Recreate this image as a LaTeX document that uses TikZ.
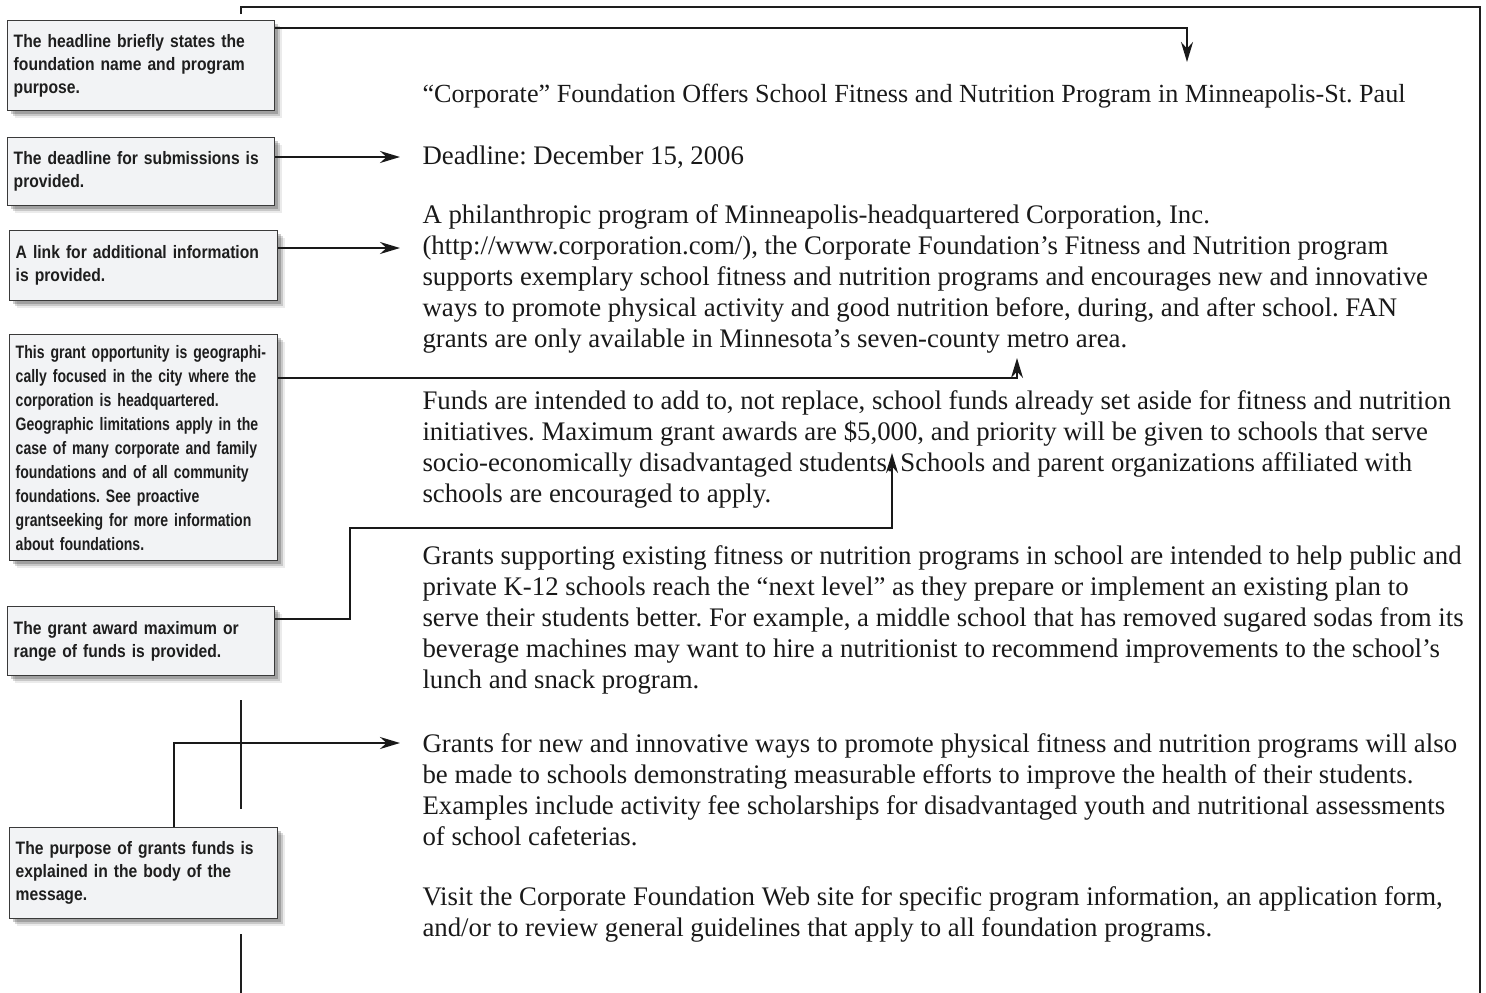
\documentclass[tikz,border=0pt]{standalone}
\usepackage{fontspec}
\setmainfont{Liberation Serif}
\newfontfamily\notefont{Liberation Sans}[FakeStretch=0.87]
\newfontfamily\geofont{Liberation Sans}[FakeStretch=0.78]
\usetikzlibrary{arrows.meta,shadows,calc}
\frenchspacing

\tikzset{every picture/.style={line width=0.75pt}}
\tikzset{
  notebox/.style={draw={rgb, 255:red, 58; green, 58; blue, 58 }, line width=1.1pt,
    fill={rgb, 255:red, 242; green, 243; blue, 245 }, anchor=north west,
    inner xsep=4.5pt, inner ysep=3pt, align=left, text={rgb, 255:red, 30; green, 30; blue, 30 },
    font=\notefont\bfseries\fontsize{13.5}{17.2}\selectfont,
    drop shadow={shadow xshift=5.5pt, shadow yshift=-5.5pt, fill=black, opacity=0.08},
    drop shadow={shadow xshift=4pt, shadow yshift=-4pt, fill=black, opacity=0.15},
    drop shadow={shadow xshift=2.5pt, shadow yshift=-2.5pt, fill=black, opacity=0.2}},
  callout/.style={color={rgb, 255:red, 25; green, 25; blue, 25 }, line width=1.5pt,
    -{Stealth[length=15pt,width=9pt]}},
  frame/.style={color={rgb, 255:red, 30; green, 30; blue, 30 }, line width=1.6pt},
  % anchored at the baseline of the last line
  bodytext/.style={anchor=base west, inner sep=0pt, align=left,
    text={rgb, 255:red, 25; green, 25; blue, 25 }, font=\fontsize{20.1}{23.1}\selectfont}
}

\begin{document}
\begin{tikzpicture}[x=0.75pt,y=0.75pt,yscale=-1,xscale=1]
    \useasboundingbox (0,0) rectangle (1486,993);

    %Shape: Frame of the page
    \draw [frame] (241,14) -- (241,7) -- (1480,7) -- (1480,993) ;
    \draw [frame] (241,700) -- (241,809) ;
    \draw [frame] (241,934) -- (241,993) ;

    %Shape: Rectangle [note boxes]
    \node [notebox, text width=191.25pt, minimum height=67.5pt] (hl) at (7,20)
      {The headline briefly states the\\foundation name and program\\purpose.};
    \node [notebox, text width=191.25pt, minimum height=51pt] (dl) at (7,137)
      {The deadline for submissions is\\provided.};
    \node [notebox, text width=192pt, minimum height=52.5pt] (lk) at (9,230)
      {A link for additional information\\is provided.};
    \node [notebox, text width=192pt, minimum height=169.5pt, font=\geofont\bfseries\fontsize{13.5}{18}\selectfont] (geo) at (9,334)
      {This grant opportunity is geographi-\\cally focused in the city where the\\corporation is headquartered.\\Geographic limitations apply in the\\case of many corporate and family\\foundations and of all community\\foundations. See proactive\\grantseeking for more information\\about foundations.};
    \node [notebox, text width=191.25pt, minimum height=51.75pt] (mx) at (7,606)
      {The grant award maximum or\\range of funds is provided.};
    \node [notebox, text width=192pt, minimum height=68.25pt] (pp) at (9,827)
      {The purpose of grants funds is\\explained in the body of the\\message.};

    % Text Node
    \node [bodytext, font=\fontsize{19.6}{22.9}\selectfont] (headline) at (422,102)
      {“Corporate” Foundation Offers School Fitness and Nutrition Program in Minneapolis-St. Paul};
    % Text Node
    \node [bodytext] (deadline) at (422,164) {Deadline: December 15, 2006};
    % Text Node
    \node [bodytext] (parIntro) at (422,347)
      {A philanthropic program of Minneapolis-headquartered Corporation, Inc.\\
       (http://www.corporation.com/), the Corporate Foundation’s Fitness and Nutrition program\\
       supports exemplary school fitness and nutrition programs and encourages new and innovative\\
       ways to promote physical activity and good nutrition before, during, and after school. FAN\\
       grants are only available in Minnesota’s seven-county metro area.};
    % Text Node
    \node [bodytext] (parFunds) at (422,502)
      {Funds are intended to add to, not replace, school funds already set aside for fitness and nutrition\\
       initiatives. Maximum grant awards are \$5,000, and priority will be given to schools that serve\\
       socio-economically disadvantaged students. Schools and parent organizations affiliated with\\
       schools are encouraged to apply.};
    % Text Node
    \node [bodytext] (parExisting) at (422,688)
      {Grants supporting existing fitness or nutrition programs in school are intended to help public and\\
       private K-12 schools reach the “next level” as they prepare or implement an existing plan to\\
       serve their students better. For example, a middle school that has removed sugared sodas from its\\
       beverage machines may want to hire a nutritionist to recommend improvements to the school’s\\
       lunch and snack program.};
    % Text Node
    \node [bodytext] (parNew) at (422,845)
      {Grants for new and innovative ways to promote physical fitness and nutrition programs will also\\
       be made to schools demonstrating measurable efforts to improve the health of their students.\\
       Examples include activity fee scholarships for disadvantaged youth and nutritional assessments\\
       of school cafeterias.};
    % Text Node
    \node [bodytext] (parVisit) at (422,936)
      {Visit the Corporate Foundation Web site for specific program information, an application form,\\
       and/or to review general guidelines that apply to all foundation programs.};

    %Straight Lines [arrow ends]
    \coordinate (hlTip) at (1187,62);
    \coordinate (dlTip) at (400,157);
    \coordinate (lkTip) at (400,248);
    \coordinate (geoTip) at (1017,358);
    \coordinate (mxBend) at (350,528);
    \coordinate (mxTip) at (892,453);
    \coordinate (ppTip) at (400,743);

    %Straight Lines [callouts]
    \draw [callout] ($(hl.north east)+(0,8)$) -| (hlTip) ;
    \draw [callout] ($(dl.north east)+(0,20)$) -- (dlTip) ;
    \draw [callout] ($(lk.north east)+(0,18)$) -- (lkTip) ;
    \draw [callout] ($(geo.north east)+(0,44)$) -| (geoTip) ;
    \draw [callout] ($(mx.north east)+(0,13)$) -| (mxBend) -| (mxTip) ;
    \draw [callout] ($(pp.north west)+(165,0)$) |- (ppTip) ;

\end{tikzpicture}
\end{document}
